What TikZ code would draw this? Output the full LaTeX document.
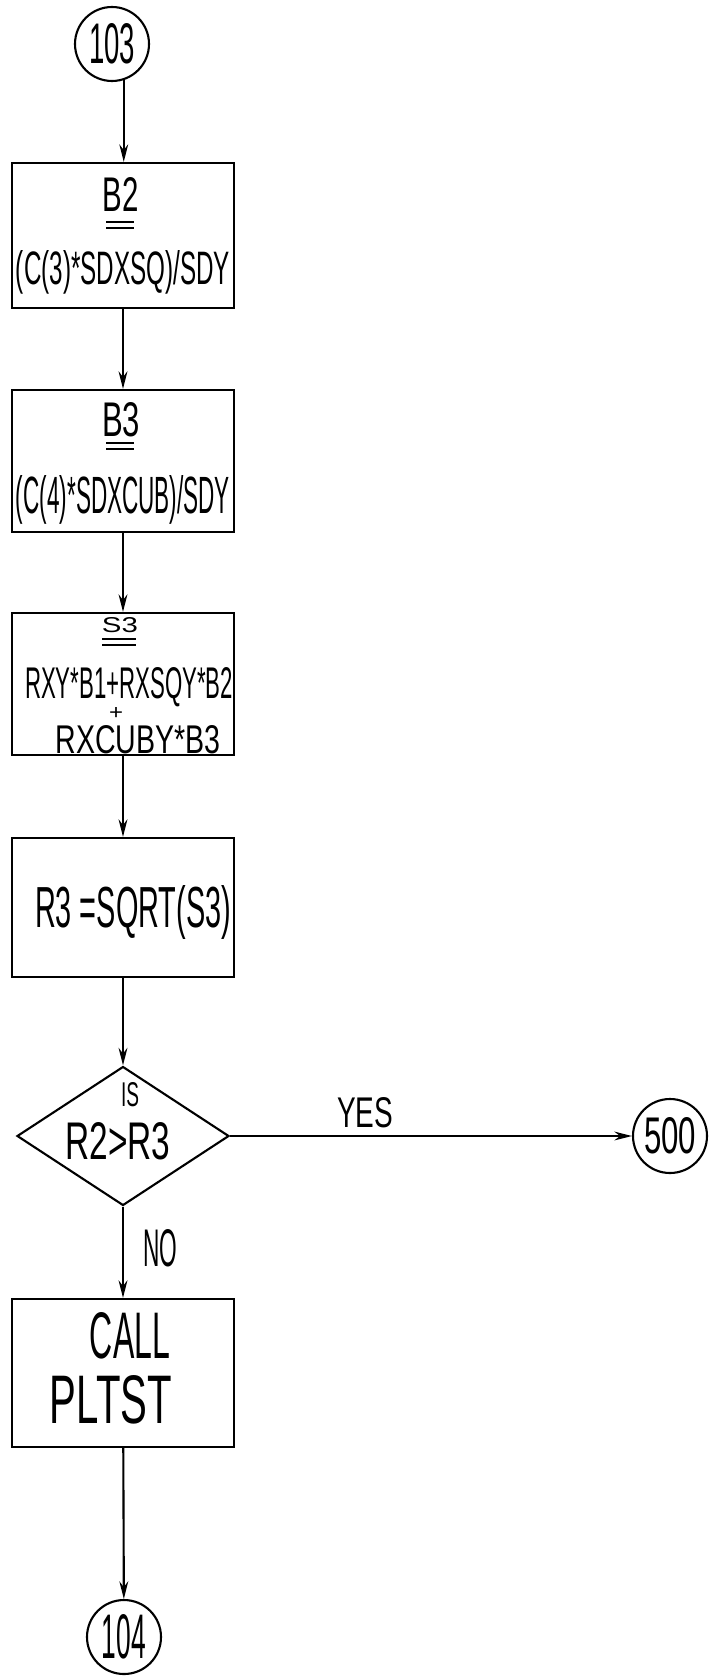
\documentclass[tikz,border=0pt]{standalone}
\usepackage{fontspec}
\usetikzlibrary{arrows.meta,shapes.geometric}
\newfontfamily\hand{Liberation Sans}
\newlength\upx
\setlength\upx{0.02cm}
\newcommand\T[3]{\resizebox{#1\upx}{#2\upx}{\hand #3}}
\begin{document}
\begin{tikzpicture}[x=0.02cm,y=-0.02cm,
  box/.style={draw,line width=1.2pt,minimum width=222\upx,inner sep=0pt},
  circ/.style={draw,circle,line width=1.2pt,minimum size=74\upx,inner sep=0pt},
  dia/.style={draw,diamond,line width=1.2pt,minimum width=212\upx,minimum height=139\upx,inner sep=0pt},
  txt/.style={inner sep=0pt},
  arr/.style={line width=1.2pt,-{Stealth[length=10pt,width=5pt]}},
  ul/.style={line width=0.9pt}]
\useasboundingbox (0,0) rectangle (710,1679);
\fill[white] (0,0) rectangle (710,1679);

\node[circ] (c103) at (112,44) {\T{46}{40}{103}};

\node[box,minimum height=145\upx] (b2) at (123,235.5) {};
\node[txt] (b2t) at (121,195) {\T{36}{34}{B2}};
\draw[ul] (106,222) -- (134,222) (106,228) -- (134,228);
\node[txt] (b2f) at (123,272) {\T{214}{34}{(C(3)*SDXSQ)/SDY}};

\node[box,minimum height=142\upx] (b3) at (123,461) {};
\node[txt] (b3t) at (121,420) {\T{38}{34}{B3}};
\draw[ul] (106,443) -- (134,443) (106,449) -- (134,449);
\node[txt] (b3f) at (123,500) {\T{214}{38}{(C(4)*SDXCUB)/SDY}};

\node[box,minimum height=142\upx] (s3) at (123,684) {};
\node[txt] (s3t) at (120,625) {\T{36}{15}{S3}};
\draw[ul] (102,639) -- (136,639) (102,645) -- (136,645);
\node[txt] (s3a) at (129,687) {\T{208}{31}{RXY*B1+RXSQY*B2}};
\node[txt] (s3b) at (116,713) {\T{14}{12}{+}};
\node[txt] (s3c) at (138,740) {\T{165}{28}{RXCUBY*B3}};

\node[box,minimum height=139\upx] (sq) at (123,907.5) {};
\node[txt] (sqt) at (133,912) {\T{196}{42}{R3 =SQRT(S3)}};

\node[dia] (d) at (123,1136) {};
\node[txt] (dis) at (130,1095) {\T{18}{24}{IS}};
\node[txt] (dr) at (118,1141) {\T{105}{37}{R2>R3}};

\node[circ] (c500) at (670,1136) {\T{52}{36}{500}};
\node[txt] (yes) at (365,1113) {\T{56}{30}{YES}};
\node[txt] (no) at (160,1248) {\T{34}{37}{NO}};

\node[box,minimum height=148\upx] (call) at (123,1373) {};
\node[txt] (callt) at (130,1336) {\T{80}{46}{CALL}};
\node[txt] (pltst) at (111,1400) {\T{122}{48}{PLTST}};

\node[circ] (c104) at (124,1637) {\T{44}{44}{104}};

\draw[arr] (c103.-72) -- (c103.-72 |- b2.north);
\draw[arr] (b2) -- (b3);
\draw[arr] (b3) -- (s3);
\draw[arr] (s3) -- (sq);
\draw[arr] (sq) -- (d);
\draw[arr] (d) -- (call);
\draw[arr] (call) -- (c104);
\draw[arr] (d) -- (c500);
\end{tikzpicture}
\end{document}
